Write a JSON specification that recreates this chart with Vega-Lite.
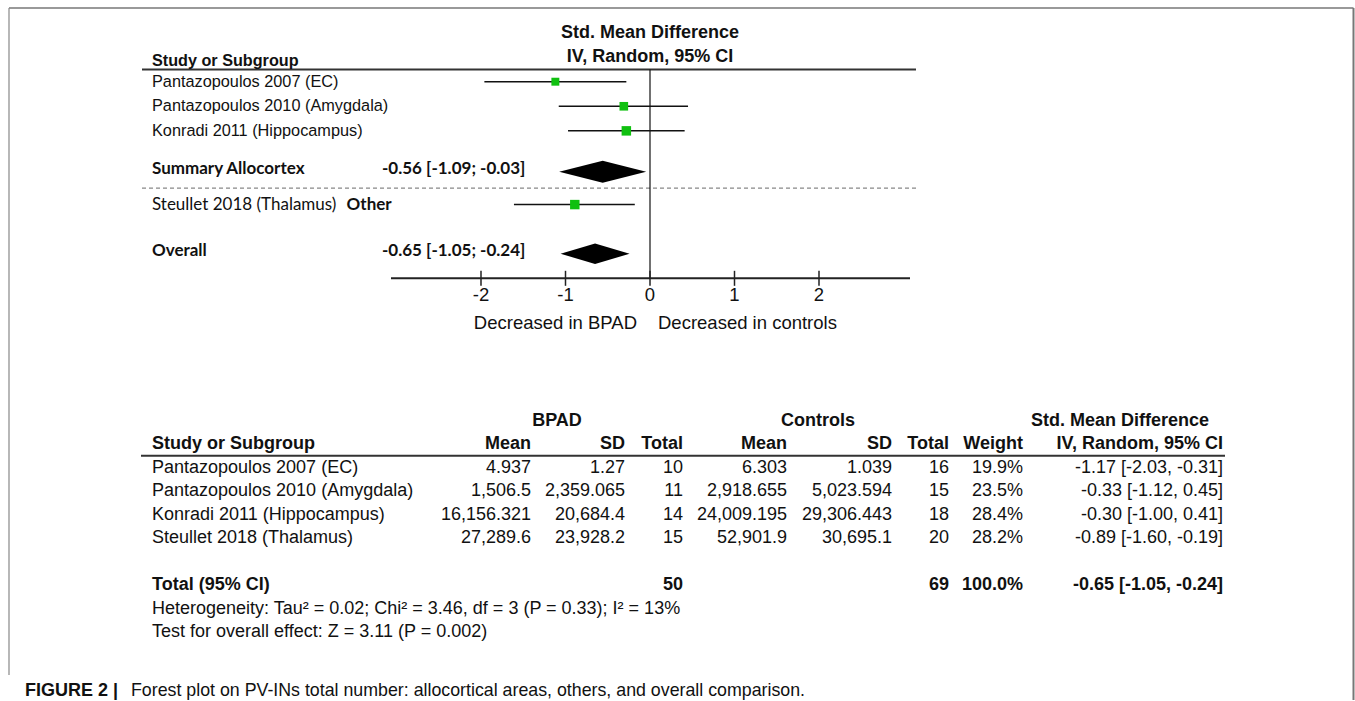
{
  "$schema": "https://vega.github.io/schema/vega-lite/v6.json",
  "width": 1355,
  "height": 701,
  "autosize": {"type": "fit", "contains": "padding"},
  "padding": 0,
  "background": "white",
  "data": {"values": [{}]},
  "config": {
    "view": {"stroke": null},
    "axis": {"disable": true},
    "legend": {"disable": true},
    "text": {"font": "Liberation Sans", "baseline": "middle", "color": "#111"}
  },
  "datasets": {
    "forest": [
      {"study": "Pantazopoulos 2007 (EC)", "est": -1.12, "lo": -1.96, "hi": -0.28, "weight": 19.9},
      {"study": "Pantazopoulos 2010 (Amygdala)", "est": -0.31, "lo": -1.08, "hi": 0.45, "weight": 23.5},
      {"study": "Konradi 2011 (Hippocampus)", "est": -0.28, "lo": -0.97, "hi": 0.41, "weight": 28.4},
      {"study": "Steullet 2018 (Thalamus)", "est": -0.89, "lo": -1.61, "hi": -0.18, "weight": 28.2}
    ],
    "summaries": [
      {"label": "Summary Allocortex", "est": -0.56, "lo": -1.09, "hi": -0.03, "ci": "-0.56 [-1.09; -0.03]"},
      {"label": "Overall", "est": -0.65, "lo": -1.05, "hi": -0.24, "ci": "-0.65 [-1.05; -0.24]"}
    ],
    "ticks": [{"v": -2}, {"v": -1}, {"v": 0}, {"v": 1}, {"v": 2}],
    "table": [
      {"study": "Pantazopoulos 2007 (EC)", "bpad_mean": "4.937", "bpad_sd": "1.27", "bpad_n": 10, "ctrl_mean": "6.303", "ctrl_sd": "1.039", "ctrl_n": 16, "weight": 0.199, "ci": "-1.17 [-2.03, -0.31]"},
      {"study": "Pantazopoulos 2010 (Amygdala)", "bpad_mean": "1,506.5", "bpad_sd": "2,359.065", "bpad_n": 11, "ctrl_mean": "2,918.655", "ctrl_sd": "5,023.594", "ctrl_n": 15, "weight": 0.235, "ci": "-0.33 [-1.12, 0.45]"},
      {"study": "Konradi 2011 (Hippocampus)", "bpad_mean": "16,156.321", "bpad_sd": "20,684.4", "bpad_n": 14, "ctrl_mean": "24,009.195", "ctrl_sd": "29,306.443", "ctrl_n": 18, "weight": 0.284, "ci": "-0.30 [-1.00, 0.41]"},
      {"study": "Steullet 2018 (Thalamus)", "bpad_mean": "27,289.6", "bpad_sd": "23,928.2", "bpad_n": 15, "ctrl_mean": "52,901.9", "ctrl_sd": "30,695.1", "ctrl_n": 20, "weight": 0.282, "ci": "-0.89 [-1.60, -0.19]"}
    ],
    "total": [
      {"study": "Total (95% CI)", "bpad_n": 50, "ctrl_n": 69, "weight": 1.0, "ci": "-0.65 [-1.05, -0.24]"}
    ]
  },
  "resolve": {"scale": {"y": "independent"}},
  "layer": [
    {
      "layer": [
        {
          "mark": {"type": "rule", "stroke": "#333", "strokeWidth": 2},
          "encoding": {
            "x": {"datum": -6.0118, "type": "quantitative", "scale": {"domain": [-7.6923, 8.3432], "nice": false, "zero": false}, "axis": null},
            "x2": {"datum": 3.1479},
            "y": {"datum": "hline", "type": "nominal", "axis": null,
              "scale": {"type": "point", "padding": 0, "range": [32.55, 323.37],
                "domain": ["hdr1", "f1", "f2", "f3", "f4", "f5", "hdr2", "hdr3", "f8", "hline", "f10", "f11",
                  "Pantazopoulos 2007 (EC)", "f13", "f14", "f15", "f16", "f17",
                  "Pantazopoulos 2010 (Amygdala)", "f19", "f20", "f21", "f22", "f23",
                  "Konradi 2011 (Hippocampus)", "f25", "f26", "f27", "f28", "f29", "f30", "f31", "f32", "f33",
                  "Summary Allocortex", "f35", "f36", "f37", "dash", "f39", "f40", "f41",
                  "Steullet 2018 (Thalamus)", "f43", "f44", "f45", "f46", "f47", "f48", "f49", "f50", "f51", "f52", "f53",
                  "Overall", "f55", "f56", "f57", "f58", "f59", "axis", "f61", "f62", "f63", "ticklab",
                  "f65", "f66", "f67", "f68", "f69", "f70", "direction"]}}
          }
        },
        {
          "mark": {"type": "rule", "stroke": "#888", "strokeWidth": 1.2, "strokeDash": [4, 3]},
          "encoding": {
            "x": {"datum": -6.0118, "type": "quantitative"},
            "x2": {"datum": 3.1598},
            "y": {"datum": "dash", "type": "nominal"}
          }
        },
        {
          "mark": {"type": "rule", "stroke": "#111", "strokeWidth": 1.2},
          "encoding": {
            "x": {"datum": 0, "type": "quantitative"},
            "y": {"datum": "hline", "type": "nominal"},
            "y2": {"datum": "axis"}
          }
        },
        {
          "mark": {"type": "rule", "stroke": "#222", "strokeWidth": 2},
          "encoding": {
            "x": {"datum": -3.0651, "type": "quantitative"},
            "x2": {"datum": 3.0769},
            "y": {"datum": "axis", "type": "nominal"}
          }
        },
        {
          "data": {"name": "ticks"},
          "mark": {"type": "tick", "color": "#222", "size": 15, "thickness": 1.5, "opacity": 1},
          "encoding": {
            "x": {"field": "v", "type": "quantitative"},
            "y": {"datum": "axis", "type": "nominal"}
          }
        },
        {
          "data": {"name": "ticks"},
          "mark": {"type": "text", "fontSize": 18.5, "align": "center"},
          "encoding": {
            "x": {"field": "v", "type": "quantitative"},
            "y": {"datum": "ticklab", "type": "nominal"},
            "text": {"field": "v", "type": "nominal"}
          }
        },
        {
          "mark": {"type": "text", "text": "Decreased in BPAD", "fontSize": 18.5, "align": "right"},
          "encoding": {
            "x": {"datum": -0.1538, "type": "quantitative"},
            "y": {"datum": "direction", "type": "nominal"}
          }
        },
        {
          "mark": {"type": "text", "text": "Decreased in controls", "fontSize": 18.5, "align": "left"},
          "encoding": {
            "x": {"datum": 0.0947, "type": "quantitative"},
            "y": {"datum": "direction", "type": "nominal"}
          }
        },
        {
          "mark": {"type": "text", "text": "Std. Mean Difference", "fontSize": 18, "fontWeight": "bold", "align": "center"},
          "encoding": {
            "x": {"datum": 0, "type": "quantitative"},
            "y": {"datum": "hdr1", "type": "nominal"}
          }
        },
        {
          "mark": {"type": "text", "text": "IV, Random, 95% CI", "fontSize": 18, "fontWeight": "bold", "align": "center"},
          "encoding": {
            "x": {"datum": 0, "type": "quantitative"},
            "y": {"datum": "hdr2", "type": "nominal"}
          }
        },
        {
          "mark": {"type": "text", "text": "Study or Subgroup", "fontSize": 16.2, "fontWeight": "bold", "align": "left"},
          "encoding": {
            "x": {"datum": -5.8935, "type": "quantitative"},
            "y": {"datum": "hdr3", "type": "nominal"}
          }
        },
        {
          "data": {"name": "forest"},
          "mark": {"type": "rule", "stroke": "#111", "strokeWidth": 1.5},
          "encoding": {
            "x": {"field": "lo", "type": "quantitative"},
            "x2": {"field": "hi"},
            "y": {"field": "study", "type": "nominal"}
          }
        },
        {
          "data": {"name": "forest"},
          "mark": {"type": "point", "shape": "square", "filled": true, "color": "#10c010", "opacity": 1, "strokeWidth": 0},
          "encoding": {
            "x": {"field": "est", "type": "quantitative"},
            "y": {"field": "study", "type": "nominal"},
            "size": {"field": "weight", "type": "quantitative", "scale": {"domain": [0, 28.4], "range": [0, 90]}, "legend": null}
          }
        },
        {
          "data": {"name": "summaries"},
          "transform": [{"filter": "datum.label == 'Summary Allocortex'"}],
          "mark": {"type": "point", "shape": "M-1,0L0,-0.253L1,0L0,0.253Z", "size": 7569, "filled": true, "color": "#000", "opacity": 1, "strokeWidth": 0},
          "encoding": {
            "x": {"field": "est", "type": "quantitative"},
            "y": {"field": "label", "type": "nominal"}
          }
        },
        {
          "data": {"name": "summaries"},
          "transform": [{"filter": "datum.label == 'Overall'"}],
          "mark": {"type": "point", "shape": "M-1,0L0,-0.3L1,0L0,0.3Z", "size": 4761, "filled": true, "color": "#000", "opacity": 1, "strokeWidth": 0},
          "encoding": {
            "x": {"field": "est", "type": "quantitative"},
            "y": {"field": "label", "type": "nominal"}
          }
        },
        {
          "data": {"name": "forest"},
          "transform": [{"filter": "datum.study != 'Steullet 2018 (Thalamus)'"}],
          "mark": {"type": "text", "fontSize": 16.3, "align": "left"},
          "encoding": {
            "x": {"datum": -5.8935, "type": "quantitative"},
            "y": {"field": "study", "type": "nominal"},
            "text": {"field": "study"}
          }
        },
        {
          "data": {"name": "forest"},
          "transform": [{"filter": "datum.study == 'Steullet 2018 (Thalamus)'"}],
          "mark": {"type": "text", "font": "Lato", "fontSize": 17, "align": "left"},
          "encoding": {
            "x": {"datum": -5.8935, "type": "quantitative"},
            "y": {"field": "study", "type": "nominal"},
            "text": {"field": "study"}
          }
        },
        {
          "mark": {"type": "text", "text": "Other", "font": "Lato", "fontSize": 17, "fontWeight": "bold", "align": "left"},
          "encoding": {
            "x": {"datum": -3.5905, "type": "quantitative"},
            "y": {"datum": "Steullet 2018 (Thalamus)", "type": "nominal"}
          }
        },
        {
          "data": {"name": "summaries"},
          "mark": {"type": "text", "font": "Lato", "fontSize": 17, "fontWeight": "bold", "align": "left", "dy": -3},
          "encoding": {
            "x": {"datum": -5.8935, "type": "quantitative"},
            "y": {"field": "label", "type": "nominal"},
            "text": {"field": "label"}
          }
        },
        {
          "data": {"name": "summaries"},
          "mark": {"type": "text", "font": "Lato", "fontSize": 17, "fontWeight": "bold", "align": "left", "dy": -3},
          "encoding": {
            "x": {"datum": -3.1716, "type": "quantitative"},
            "y": {"field": "label", "type": "nominal"},
            "text": {"field": "ci"}
          }
        }
      ]
    },
    {
      "layer": [
        {
          "mark": {"type": "rule", "stroke": "#333", "strokeWidth": 2},
          "encoding": {
            "x": {"datum": -6.0237, "type": "quantitative"},
            "x2": {"datum": 6.8047},
            "y": {"datum": "underline", "type": "nominal", "axis": null,
              "scale": {"type": "point", "padding": 0, "range": [420.5, 690.75],
                "domain": ["group", "t1", "t2", "t3", "colhdr", "t5", "underline", "t7",
                  "Pantazopoulos 2007 (EC)", "t9", "t10", "t11",
                  "Pantazopoulos 2010 (Amygdala)", "t13", "t14", "t15",
                  "Konradi 2011 (Hippocampus)", "t17", "t18", "t19",
                  "Steullet 2018 (Thalamus)", "t21", "t22", "t23", "t24", "t25", "t26", "t27",
                  "Total (95% CI)", "t29", "t30", "t31", "het", "t33", "t34", "t35", "test",
                  "t37", "t38", "t39", "t40", "t41", "t42", "t43", "t44", "t45", "caption"]}}
          }
        },
        {"mark": {"type": "text", "text": "BPAD", "fontSize": 18, "fontWeight": "bold", "align": "center"},
         "encoding": {"x": {"datum": -1.1006, "type": "quantitative"}, "y": {"datum": "group", "type": "nominal"}}},
        {"mark": {"type": "text", "text": "Controls", "fontSize": 18, "fontWeight": "bold", "align": "center"},
         "encoding": {"x": {"datum": 1.9882, "type": "quantitative"}, "y": {"datum": "group", "type": "nominal"}}},
        {"mark": {"type": "text", "text": "Std. Mean Difference", "fontSize": 18, "fontWeight": "bold", "align": "center"},
         "encoding": {"x": {"datum": 5.5621, "type": "quantitative"}, "y": {"datum": "group", "type": "nominal"}}},
        {"mark": {"type": "text", "text": "Study or Subgroup", "fontSize": 18, "fontWeight": "bold", "align": "left"},
         "encoding": {"x": {"datum": -5.8935, "type": "quantitative"}, "y": {"datum": "colhdr", "type": "nominal"}}},
        {"mark": {"type": "text", "text": "Mean", "fontSize": 18, "fontWeight": "bold", "align": "right"},
         "encoding": {"x": {"datum": -1.4083, "type": "quantitative"}, "y": {"datum": "colhdr", "type": "nominal"}}},
        {"mark": {"type": "text", "text": "SD", "fontSize": 18, "fontWeight": "bold", "align": "right"},
         "encoding": {"x": {"datum": -0.2959, "type": "quantitative"}, "y": {"datum": "colhdr", "type": "nominal"}}},
        {"mark": {"type": "text", "text": "Total", "fontSize": 18, "fontWeight": "bold", "align": "right"},
         "encoding": {"x": {"datum": 0.3905, "type": "quantitative"}, "y": {"datum": "colhdr", "type": "nominal"}}},
        {"mark": {"type": "text", "text": "Mean", "fontSize": 18, "fontWeight": "bold", "align": "right"},
         "encoding": {"x": {"datum": 1.6213, "type": "quantitative"}, "y": {"datum": "colhdr", "type": "nominal"}}},
        {"mark": {"type": "text", "text": "SD", "fontSize": 18, "fontWeight": "bold", "align": "right"},
         "encoding": {"x": {"datum": 2.8639, "type": "quantitative"}, "y": {"datum": "colhdr", "type": "nominal"}}},
        {"mark": {"type": "text", "text": "Total", "fontSize": 18, "fontWeight": "bold", "align": "right"},
         "encoding": {"x": {"datum": 3.5385, "type": "quantitative"}, "y": {"datum": "colhdr", "type": "nominal"}}},
        {"mark": {"type": "text", "text": "Weight", "fontSize": 18, "fontWeight": "bold", "align": "right"},
         "encoding": {"x": {"datum": 4.4142, "type": "quantitative"}, "y": {"datum": "colhdr", "type": "nominal"}}},
        {"mark": {"type": "text", "text": "IV, Random, 95% CI", "fontSize": 18, "fontWeight": "bold", "align": "right"},
         "encoding": {"x": {"datum": 6.7811, "type": "quantitative"}, "y": {"datum": "colhdr", "type": "nominal"}}},
        {"data": {"name": "table"}, "mark": {"type": "text", "fontSize": 18, "align": "left"},
         "encoding": {"x": {"datum": -5.8935, "type": "quantitative"}, "y": {"field": "study", "type": "nominal"}, "text": {"field": "study"}}},
        {"data": {"name": "table"}, "mark": {"type": "text", "fontSize": 18, "align": "right"},
         "encoding": {"x": {"datum": -1.4083, "type": "quantitative"}, "y": {"field": "study", "type": "nominal"}, "text": {"field": "bpad_mean"}}},
        {"data": {"name": "table"}, "mark": {"type": "text", "fontSize": 18, "align": "right"},
         "encoding": {"x": {"datum": -0.2959, "type": "quantitative"}, "y": {"field": "study", "type": "nominal"}, "text": {"field": "bpad_sd"}}},
        {"data": {"name": "table"}, "mark": {"type": "text", "fontSize": 18, "align": "right"},
         "encoding": {"x": {"datum": 0.3905, "type": "quantitative"}, "y": {"field": "study", "type": "nominal"}, "text": {"field": "bpad_n", "type": "nominal"}}},
        {"data": {"name": "table"}, "mark": {"type": "text", "fontSize": 18, "align": "right"},
         "encoding": {"x": {"datum": 1.6213, "type": "quantitative"}, "y": {"field": "study", "type": "nominal"}, "text": {"field": "ctrl_mean"}}},
        {"data": {"name": "table"}, "mark": {"type": "text", "fontSize": 18, "align": "right"},
         "encoding": {"x": {"datum": 2.8639, "type": "quantitative"}, "y": {"field": "study", "type": "nominal"}, "text": {"field": "ctrl_sd"}}},
        {"data": {"name": "table"}, "mark": {"type": "text", "fontSize": 18, "align": "right"},
         "encoding": {"x": {"datum": 3.5385, "type": "quantitative"}, "y": {"field": "study", "type": "nominal"}, "text": {"field": "ctrl_n", "type": "nominal"}}},
        {"data": {"name": "table"}, "mark": {"type": "text", "fontSize": 18, "align": "right"},
         "encoding": {"x": {"datum": 4.4142, "type": "quantitative"}, "y": {"field": "study", "type": "nominal"}, "text": {"field": "weight", "type": "quantitative", "format": ".1%"}}},
        {"data": {"name": "table"}, "mark": {"type": "text", "fontSize": 18, "align": "right"},
         "encoding": {"x": {"datum": 6.7811, "type": "quantitative"}, "y": {"field": "study", "type": "nominal"}, "text": {"field": "ci"}}},
        {"data": {"name": "total"}, "mark": {"type": "text", "fontSize": 18, "fontWeight": "bold", "align": "left"},
         "encoding": {"x": {"datum": -5.8935, "type": "quantitative"}, "y": {"field": "study", "type": "nominal"}, "text": {"field": "study"}}},
        {"data": {"name": "total"}, "mark": {"type": "text", "fontSize": 18, "fontWeight": "bold", "align": "right"},
         "encoding": {"x": {"datum": 0.3905, "type": "quantitative"}, "y": {"field": "study", "type": "nominal"}, "text": {"field": "bpad_n", "type": "nominal"}}},
        {"data": {"name": "total"}, "mark": {"type": "text", "fontSize": 18, "fontWeight": "bold", "align": "right"},
         "encoding": {"x": {"datum": 3.5385, "type": "quantitative"}, "y": {"field": "study", "type": "nominal"}, "text": {"field": "ctrl_n", "type": "nominal"}}},
        {"data": {"name": "total"}, "mark": {"type": "text", "fontSize": 18, "fontWeight": "bold", "align": "right"},
         "encoding": {"x": {"datum": 4.4142, "type": "quantitative"}, "y": {"field": "study", "type": "nominal"}, "text": {"field": "weight", "type": "quantitative", "format": ".1%"}}},
        {"data": {"name": "total"}, "mark": {"type": "text", "fontSize": 18, "fontWeight": "bold", "align": "right"},
         "encoding": {"x": {"datum": 6.7811, "type": "quantitative"}, "y": {"field": "study", "type": "nominal"}, "text": {"field": "ci"}}},
        {"mark": {"type": "text", "text": "Heterogeneity: Tau² = 0.02; Chi² = 3.46, df = 3 (P = 0.33); I² = 13%", "fontSize": 18, "align": "left"},
         "encoding": {"x": {"datum": -5.8935, "type": "quantitative"}, "y": {"datum": "het", "type": "nominal"}}},
        {"mark": {"type": "text", "text": "Test for overall effect: Z = 3.11 (P = 0.002)", "fontSize": 18, "align": "left"},
         "encoding": {"x": {"datum": -5.8935, "type": "quantitative"}, "y": {"datum": "test", "type": "nominal"}}},
        {"mark": {"type": "text", "text": "FIGURE 2 |", "fontSize": 18, "fontWeight": "bold", "align": "left"},
         "encoding": {"x": {"datum": -7.3964, "type": "quantitative"}, "y": {"datum": "caption", "type": "nominal"}}},
        {"mark": {"type": "text", "text": "Forest plot on PV-INs total number: allocortical areas, others, and overall comparison.", "fontSize": 17.8, "align": "left"},
         "encoding": {"x": {"datum": -6.142, "type": "quantitative"}, "y": {"datum": "caption", "type": "nominal"}}}
      ]
    },
    {
      "layer": [
        {
          "mark": {"type": "rule", "stroke": "#777", "strokeWidth": 1.5},
          "encoding": {
            "x": {"datum": -7.5858, "type": "quantitative"},
            "x2": {"datum": 8.3254},
            "y": {"datum": "top", "type": "nominal", "axis": null,
              "scale": {"type": "point", "padding": 0, "range": [8, 675], "domain": ["top", "leftEnd"]}}
          }
        },
        {
          "mark": {"type": "rule", "stroke": "#888", "strokeWidth": 1.2},
          "encoding": {
            "x": {"datum": -7.5858, "type": "quantitative"},
            "y": {"datum": "top", "type": "nominal"},
            "y2": {"datum": "leftEnd"}
          }
        },
        {
          "mark": {"type": "rule", "stroke": "#777", "strokeWidth": 2},
          "encoding": {
            "x": {"datum": 8.3254, "type": "quantitative"},
            "y": {"datum": "top", "type": "nominal"},
            "y2": {"value": "height"}
          }
        }
      ]
    }
  ]
}
